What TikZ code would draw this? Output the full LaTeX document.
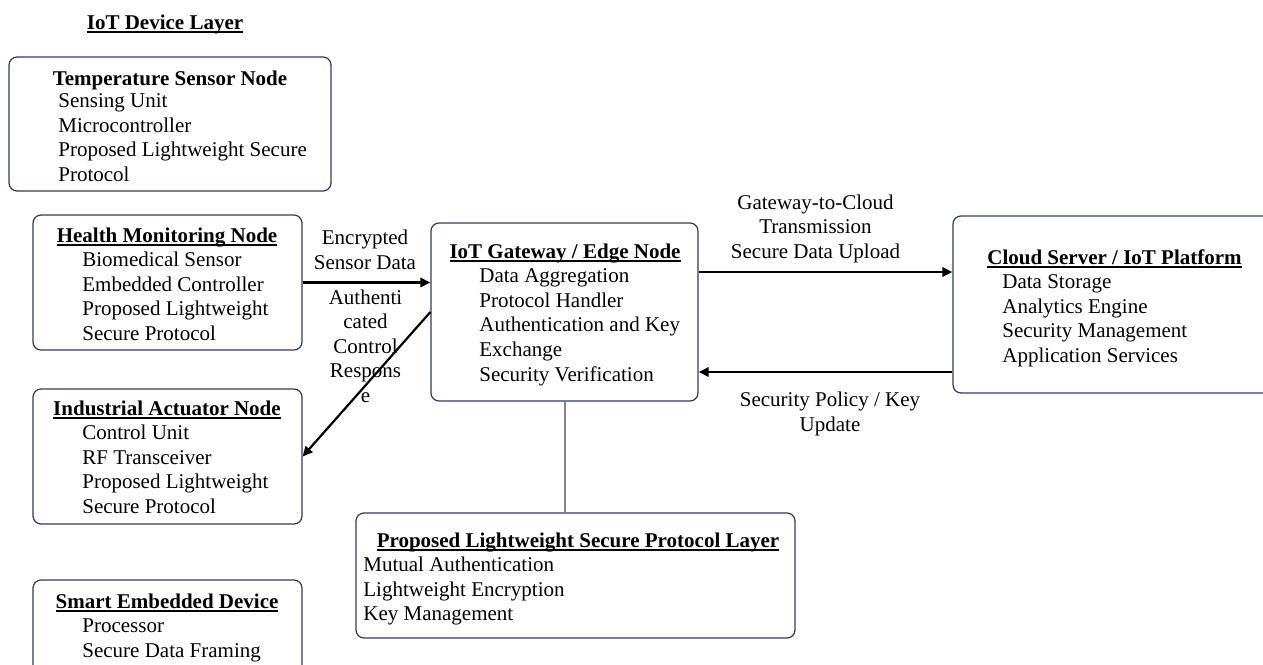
\documentclass[tikz,border=0pt]{standalone}
\usepackage{fontspec}
\setmainfont{Liberation Serif}
\usetikzlibrary{fit,arrows.meta}
\definecolor{boxline}{RGB}{47,58,94}
\definecolor{linkgray}{RGB}{135,135,135}
\newcommand\myul[1]{\setbox0\hbox{#1}\dp0=0pt\vtop{\copy0\kern0.9pt\hrule height 0.85pt}}
\tikzset{
  box/.style={draw=boxline, line width=0.6pt, rounded corners=4pt, inner sep=0pt},
  txt/.style={font=\fontsize{10.5}{12.3}\selectfont, inner sep=0pt, anchor=base west},
  ttl/.style={font=\fontsize{10.5}{12.3}\selectfont\bfseries, inner sep=0pt, anchor=base},
  lbl/.style={font=\fontsize{10.5}{12.3}\selectfont, inner sep=0pt, anchor=base},
  arr/.style={line width=1.1pt, -{Triangle[length=5pt,width=4.6pt]}},
  link/.style={draw=linkgray, line width=1pt}
}
\begin{document}
\begin{tikzpicture}[x=0.5pt,y=-0.5pt]
\useasboundingbox (0,0) rectangle (1263,664);
\clip (0,0) rectangle (1263,664);

% layer title
\node[ttl] (layer) at (165,29) {\myul{IoT Device Layer}};

% boxes
\node[box, fit={(9,57)(331,191)}] (temp) {};
\node[box, fit={(33,215)(302,350)}] (health) {};
\node[box, fit={(33,389)(302,524)}] (indus) {};
\node[box, fit={(33,580)(302,700)}] (smart) {};
\node[box, fit={(431,223)(698,401)}] (gateway) {};
\node[box, fit={(953,216)(1276,393)}] (cloud) {};
\node[box, fit={(356,513)(795,638)}] (proto) {};

% temperature
\node[ttl] (temp-t) at (170,85) {Temperature Sensor Node};
\foreach \t [count=\i from 0] in {Sensing Unit, Microcontroller, Proposed Lightweight Secure, Protocol}
  \node[txt] (temp-\i) at (58,107.5+24.6*\i) {\t};

% health
\node[ttl] (health-t) at (167,242) {\myul{Health Monitoring Node}};
\foreach \t [count=\i from 0] in {Biomedical Sensor, Embedded Controller, Proposed Lightweight, Secure Protocol}
  \node[txt] (health-\i) at (82,266.5+24.6*\i) {\t};

% industrial
\node[ttl] (indus-t) at (167,415) {\myul{Industrial Actuator Node}};
\foreach \t [count=\i from 0] in {Control Unit, RF Transceiver, Proposed Lightweight, Secure Protocol}
  \node[txt] (indus-\i) at (82,439.6+24.6*\i) {\t};

% smart
\node[ttl] (smart-t) at (167,608) {\myul{Smart Embedded Device}};
\foreach \t [count=\i from 0] in {Processor, Secure Data Framing}
  \node[txt] (smart-\i) at (82,632.6+24.6*\i) {\t};

% gateway
\node[ttl] (gw-t) at (565,258) {\myul{IoT Gateway / Edge Node}};
\foreach \t [count=\i from 0] in {Data Aggregation, Protocol Handler, Authentication and Key, Exchange, Security Verification}
  \node[txt] (gw-\i) at (479,282.6+24.6*\i) {\t};

% cloud
\node[ttl] (cl-t) at (1114.5,264) {\myul{Cloud Server / IoT Platform}};
\foreach \t [count=\i from 0] in {Data Storage, Analytics Engine, Security Management, Application Services}
  \node[txt] (cl-\i) at (1002,288.6+24.6*\i) {\t};

% protocol layer
\node[ttl] (pr-t) at (578,547) {\myul{Proposed Lightweight Secure Protocol Layer}};
\foreach \t [count=\i from 0] in {Mutual Authentication, Lightweight Encryption, Key Management}
  \node[txt] (pr-\i) at (363,571.6+24.6*\i) {\t};

% connectors
\coordinate (up) at (0,272);
\coordinate (lo) at (0,372);
\draw[arr] (health.east) -- (health.east -| gateway.west);
\draw[arr] (gateway.west) -- (indus.east);
\draw[arr] (gateway.east |- up) -- (cloud.west |- up);
\draw[arr] (cloud.west |- lo) -- (gateway.east |- lo);
\draw[link] (gateway.south) -- (gateway.south |- proto.north);

% connector labels
\node[lbl] (l1a) at (365,244) {Encrypted};
\node[lbl] (l1b) at (365,269) {Sensor Data};
\foreach \t [count=\i from 0] in {Authenti, cated, Control, Respons, e}
  \node[lbl] (l2-\i) at (365.5,304+24.6*\i) {\t};
\foreach \t [count=\i from 0] in {Gateway-to-Cloud, Transmission, Secure Data Upload}
  \node[lbl] (l3-\i) at (815.5,209+24.6*\i) {\t};
\node[lbl] (l4a) at (830,406.5) {Security Policy / Key};
\node[lbl] (l4b) at (830,431) {Update};
\end{tikzpicture}
\end{document}
